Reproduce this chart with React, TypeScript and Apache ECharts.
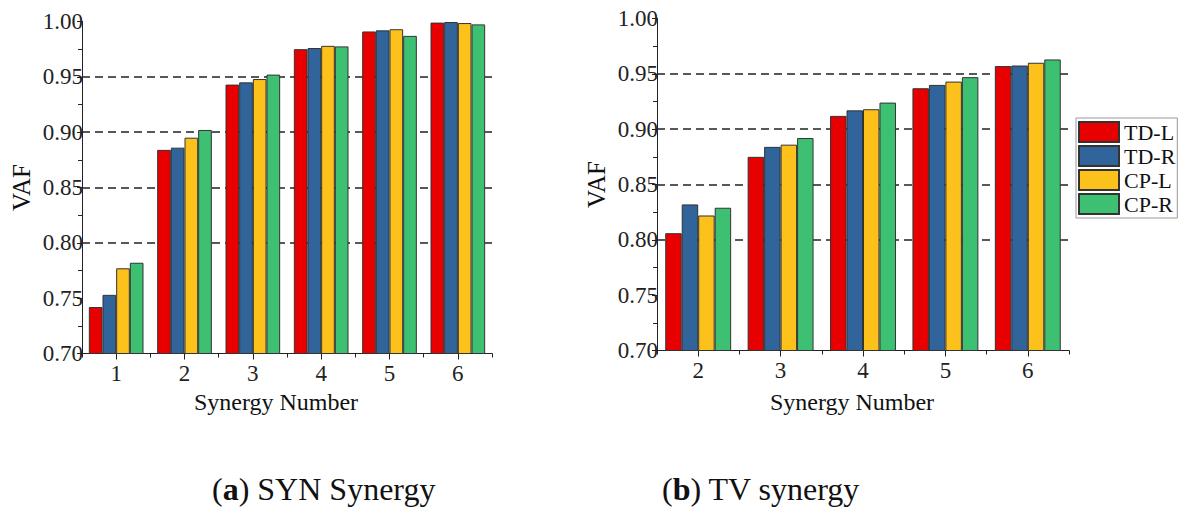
import React, { useEffect, useRef } from "react";
import * as echarts from "echarts";

const seriesNames = ["TD-L", "TD-R", "CP-L", "CP-R"];
const seriesColors = ["#E80000", "#30649A", "#FCC11A", "#3DC072"];

const categoriesA = ["1", "2", "3", "4", "5", "6"];
const tdLA = [0.742, 0.884, 0.943, 0.975, 0.991, 0.999];
const tdRA = [0.753, 0.886, 0.945, 0.976, 0.992, 0.9995];
const cpLA = [0.777, 0.895, 0.948, 0.978, 0.993, 0.9986];
const cpRA = [0.782, 0.902, 0.952, 0.9775, 0.987, 0.9974];

const categoriesB = ["2", "3", "4", "5", "6"];
const tdLB = [0.806, 0.875, 0.912, 0.937, 0.957];
const tdRB = [0.832, 0.884, 0.917, 0.94, 0.9575];
const cpLB = [0.822, 0.886, 0.918, 0.943, 0.96];
const cpRB = [0.829, 0.892, 0.924, 0.947, 0.963];

const yMin = 0.7;
const yMax = 1.0;
const yInterval = 0.05;

const xAxisTitle = "Synergy Number";
const yAxisTitle = "VAF";
const captionA = { letter: "a", rest: " SYN Synergy" };
const captionB = { letter: "b", rest: " TV synergy" };

const FONT = "'Liberation Serif', 'Times New Roman', serif";
const AXIS = "#222";

function yAxisFor(gridIndex: number) {
  return {
    type: "value",
    gridIndex,
    min: yMin,
    max: yMax,
    interval: yInterval,
    name: yAxisTitle,
    nameLocation: "middle",
    nameRotate: 90,
    nameGap: 48,
    nameTextStyle: { fontFamily: FONT, fontSize: 25, color: "#111" },
    axisLine: { show: true, lineStyle: { color: AXIS, width: 1 } },
    axisTick: { show: true, length: 5, lineStyle: { color: AXIS } },
    minorTick: { show: true, splitNumber: 2, length: 4, lineStyle: { color: AXIS } },
    axisLabel: {
      fontFamily: FONT,
      fontSize: 23,
      color: "#222",
      margin: -1,
      formatter: (v: number) => v.toFixed(2),
    },
    splitLine: {
      show: true,
      lineStyle: {
        color: ["rgba(0,0,0,0)", "rgba(0,0,0,0)", "#222", "#222", "#222", "#222", "rgba(0,0,0,0)"],
        type: [8, 5],
        width: 1.6,
      },
    },
  };
}

function xAxesFor(gridIndex: number, cats: string[], gap: number) {
  return [
    {
      type: "category",
      gridIndex,
      data: cats,
      position: "bottom",
      name: xAxisTitle,
      nameLocation: "middle",
      nameGap: gap,
      nameTextStyle: { fontFamily: FONT, fontSize: 24, color: "#111", padding: [0, 22, 0, 0] },
      axisLine: { show: true, lineStyle: { color: AXIS, width: 1 } },
      axisTick: { show: true, alignWithLabel: true, length: 6, lineStyle: { color: AXIS } },
      axisLabel: { fontFamily: FONT, fontSize: 23, color: "#222", margin: 8 },
      splitLine: { show: false },
    },
    {
      type: "category",
      gridIndex,
      data: cats,
      position: "bottom",
      offset: 0,
      axisLine: { show: false },
      axisTick: { show: true, length: 4, lineStyle: { color: AXIS } },
      axisLabel: { show: false },
      splitLine: { show: false },
    },
  ];
}

function barsFor(xAxisIndex: number, yAxisIndex: number, data: number[][], catGap: string) {
  return data.map((vals, i) => ({
    type: "bar",
    name: seriesNames[i],
    xAxisIndex,
    yAxisIndex,
    data: vals,
    barGap: "0%",
    barCategoryGap: catGap,
    itemStyle: { color: seriesColors[i], borderColor: "#333", borderWidth: 1 },
  }));
}

export default function App() {
  const ref = useRef<HTMLDivElement>(null);
  useEffect(() => {
    if (!ref.current) return;
    const chart = echarts.init(ref.current, undefined, { renderer: "svg" });
    chart.setOption({
      animation: false,
      backgroundColor: "#fff",
      grid: [
        { left: 82, top: 21.5, width: 410, height: 332, containLabel: false },
        { left: 657, top: 18.5, width: 412, height: 332, containLabel: false },
      ],
      xAxis: [...xAxesFor(0, categoriesA, 36), ...xAxesFor(1, categoriesB, 39)],
      yAxis: [yAxisFor(0), yAxisFor(1)],
      legend: {
        orient: "vertical",
        left: 1076,
        top: 118,
        padding: [3, 2, 3, 2],
        itemWidth: 40,
        itemHeight: 20,
        itemGap: 2,
        icon: "rect",
        borderColor: "#999",
        borderWidth: 1,
        data: seriesNames,
        textStyle: { fontFamily: FONT, fontSize: 22, color: "#111", lineHeight: 20 },
      },
      graphic: [
        {
          type: "text",
          left: 212,
          top: 473,
          style: {
            text: `({b|${captionA.letter}})${captionA.rest}`,
            fontFamily: FONT,
            fontSize: 32,
            fill: "#111",
            rich: { b: { fontFamily: FONT, fontSize: 32, fontWeight: "bold", fill: "#111" } },
          },
        },
        {
          type: "text",
          left: 662,
          top: 473,
          style: {
            text: `({b|${captionB.letter}})${captionB.rest}`,
            fontFamily: FONT,
            fontSize: 32,
            fill: "#111",
            rich: { b: { fontFamily: FONT, fontSize: 32, fontWeight: "bold", fill: "#111" } },
          },
        },
      ],
      series: [
        ...barsFor(0, 0, [tdLA, tdRA, cpLA, cpRA], "20%"),
        ...barsFor(2, 1, [tdLB, tdRB, cpLB, cpRB], "20%"),
      ],
    });
    return () => chart.dispose();
  }, []);
  return (
    <div
      ref={ref}
      style={{ position: "absolute", left: 0, top: 0, width: 1180, height: 522 }}
    />
  );
}
